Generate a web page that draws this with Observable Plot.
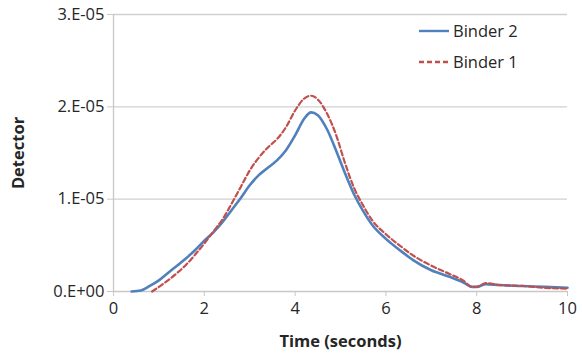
<!DOCTYPE html>
<html>
<head>
<meta charset="utf-8">
<script src="https://cdn.jsdelivr.net/npm/d3@7"></script>
<script src="https://cdn.jsdelivr.net/npm/@observablehq/plot@0.6"></script>
<style>
  html, body { margin: 0; padding: 0; background: #fff; }
  #wrap { position: relative; width: 582px; height: 354px; font-family: "Open Sans", sans-serif; }
  #legend { position: absolute; left: 419px; top: 15px; font-size: 16.5px; color: #262626; }
  .item { display: flex; align-items: center; height: 31px; }
  .item svg { margin-right: 4px; }
</style>
</head>
<body>
<div id="wrap">
  <div id="chart"></div>
  <div id="legend"></div>
</div>
<script>
// Series (values in units of 1e-5)
const timeBinder2 = [0.4,0.6,0.8,1.0,1.2,1.4,1.6,1.8,2.0,2.2,2.4,2.6,2.8,3.0,3.2,3.4,3.6,3.8,4.0,4.2,4.35,4.5,4.7,4.9,5.1,5.3,5.5,5.7,6.0,6.3,6.6,7.0,7.4,7.7,7.9,8.0,8.2,8.5,9.0,9.5,10];
const valBinder2  = [0,0.01,0.06,0.12,0.20,0.28,0.36,0.45,0.55,0.64,0.75,0.88,1.01,1.15,1.26,1.34,1.42,1.53,1.69,1.87,1.94,1.91,1.76,1.53,1.28,1.05,0.87,0.72,0.57,0.45,0.34,0.23,0.16,0.10,0.05,0.05,0.08,0.07,0.06,0.05,0.04];
const timeBinder1 = [0.85,1.0,1.2,1.4,1.6,1.8,2.0,2.2,2.4,2.6,2.8,3.0,3.2,3.4,3.6,3.8,4.0,4.2,4.35,4.5,4.7,4.9,5.1,5.3,5.5,5.7,6.0,6.3,6.6,7.0,7.4,7.7,7.9,8.0,8.2,8.5,9.0,9.5,10];
const valBinder1  = [0,0.05,0.12,0.20,0.29,0.40,0.52,0.65,0.78,0.95,1.13,1.31,1.45,1.56,1.65,1.78,1.96,2.09,2.12,2.08,1.93,1.70,1.39,1.12,0.93,0.77,0.62,0.50,0.39,0.28,0.19,0.12,0.05,0.05,0.09,0.07,0.06,0.04,0.03];
const xTicks = [0,2,4,6,8,10];
const yTicks = [0,1,2,3];
const yTickLabels = ["0.E+00","1.E-05","2.E-05","3.E-05"];
const seriesNames = ["Binder 2","Binder 1"];
const seriesColors = ["#4f81bd","#c0504d"];

const b2 = timeBinder2.map((t,i)=>({t, v: valBinder2[i]}));
const b1 = timeBinder1.map((t,i)=>({t, v: valBinder1[i]}));

const chart = Plot.plot({
  width: 582,
  height: 354,
  marginLeft: 113,
  marginRight: 15,
  marginTop: 14,
  marginBottom: 63,
  style: { fontFamily: "Open Sans, sans-serif", fontSize: "16.5px", color: "#262626", background: "#fff" },
  x: { domain: [0,10] },
  y: { domain: [0,3] },
  marks: [
    Plot.gridY(yTicks.slice(1), { stroke: "#d0d0d0", strokeOpacity: 1, strokeWidth: 1.3 }),
    Plot.ruleX([0], { stroke: "#c8c8c8", strokeWidth: 1.3 }),
    Plot.ruleY([0], { stroke: "#c8c8c8", strokeWidth: 1.3 }),
    Plot.axisY({ ticks: yTicks, tickFormat: (d)=>yTickLabels[yTicks.indexOf(d)], tickSize: 6, tickPadding: 3, stroke: "#c8c8c8", label: null, fontSize: 16.5 }),
    Plot.axisX({ ticks: xTicks, tickSize: 5, tickPadding: 6, stroke: "#c8c8c8", label: null, fontSize: 16.5 }),
    Plot.line(b2, { x: "t", y: "v", stroke: seriesColors[0], strokeWidth: 2.6, curve: "monotone-x" }),
    Plot.line(b1, { x: "t", y: "v", stroke: seriesColors[1], strokeWidth: 2.2, strokeDasharray: "5,3", curve: "monotone-x" }),
    Plot.text(["Time (seconds)"], { frameAnchor: "bottom", dy: 55, fontWeight: "bold", fontSize: 16.5, fill: "#262626" }),
    Plot.text(["Detector"], { frameAnchor: "left", textAnchor: "middle", dx: -95, rotate: -90, fontWeight: "bold", fontSize: 16.5, fill: "#262626" })
  ]
});
document.getElementById("chart").appendChild(chart);

const legend = document.getElementById("legend");
seriesNames.forEach((name,i)=>{
  const div = document.createElement("div");
  div.className = "item";
  const dash = i === 1 ? ' stroke-dasharray="5,3"' : '';
  div.innerHTML = `<svg width="30" height="6"><line x1="0" y1="3" x2="30" y2="3" stroke="${seriesColors[i]}" stroke-width="2.4"${dash}/></svg><span>${name}</span>`;
  legend.appendChild(div);
});
</script>
</body>
</html>
